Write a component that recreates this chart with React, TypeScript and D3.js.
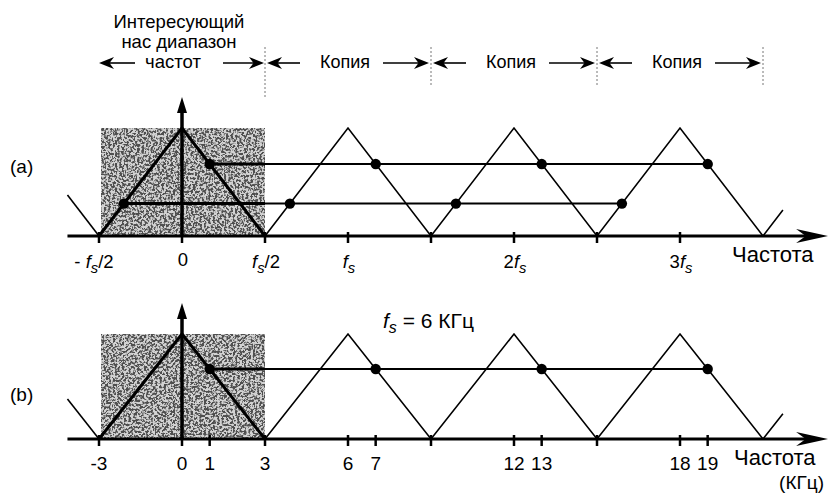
import React from "react";
import * as d3 from "d3";

const W = 828;
const H = 494;
const FONT = "'Liberation Sans', Arial, Helvetica, sans-serif";

// ---- data ----
const headerLines = ["Интересующий", "нас диапазон", "частот"];
const copyText = "Копия";
const bandEdges = [-0.5, 0.5, 1.5, 2.5, 3.5]; // in units of fs
const copyCenters = [1, 2, 3];
const spectrumStart = -0.69; // fs units
const spectrumEnd = 3.62;
const signalsA = [0.167, -0.35]; // fs units
const signalsB = [1]; // kHz
const fsKHz = 6;
const ticksA = [-0.5, 0, 0.5, 1, 2, 3];
const tickLabelsA = ["- fs/2", "0", "fs/2", "fs", "2fs", "3fs"];
const crossTicksA = [1.5, 2.5];
const ticksB = [-3, 0, 1, 3, 6, 7, 12, 13, 18, 19];
const crossTicksB = [9, 15];
const axisLabel = "Частота";
const unitLabel = "(КГц)";
const fsNote = "= 6 КГц";

// ---- helpers ----
const x = d3.scaleLinear().domain([0, 3]).range([182, 680]);
const tri = (f: number) => Math.max(0, 1 - 2 * Math.abs(f - Math.round(f)));

function vertices(a: number, b: number) {
  const pts: number[] = [a];
  for (let v = Math.ceil(a * 2) / 2; v <= b; v += 0.5) if (v > a) pts.push(v);
  pts.push(b);
  return pts;
}

function FsLabel({ text, x0, y0, size = 18 }: { text: string; x0: number; y0: number; size?: number }) {
  const i = text.indexOf("fs");
  if (i < 0)
    return (
      <text x={x0} y={y0} textAnchor="middle" fontSize={size} fontFamily={FONT}>
        {text}
      </text>
    );
  const pre = text.slice(0, i);
  const post = text.slice(i + 2);
  return (
    <text x={x0} y={y0} textAnchor="middle" fontSize={size} fontFamily={FONT}>
      {pre && <tspan>{pre}</tspan>}
      <tspan fontStyle="italic">f</tspan>
      <tspan fontStyle="italic" fontSize={size * 0.8} dy={5}>
        s
      </tspan>
      {post && <tspan dy={-5}>{post}</tspan>}
    </text>
  );
}

function HeadRight({ tipX, y, len = 15, half = 6 }: { tipX: number; y: number; len?: number; half?: number }) {
  return <path d={`M${tipX},${y} L${tipX - len},${y - half} L${tipX - len * 0.7},${y} L${tipX - len},${y + half} Z`} fill="#000" />;
}
function HeadLeft({ tipX, y, len = 15, half = 6 }: { tipX: number; y: number; len?: number; half?: number }) {
  return <path d={`M${tipX},${y} L${tipX + len},${y - half} L${tipX + len * 0.7},${y} L${tipX + len},${y + half} Z`} fill="#000" />;
}

function Panel({
  y0,
  peakY,
  arrowTop,
  signals,
  ticks,
  crosses,
  unit,
  id,
}: {
  y0: number;
  peakY: number;
  arrowTop: number;
  signals: number[];
  ticks: number[];
  crosses: number[];
  unit: number;
  id: string;
}) {
  const y = d3.scaleLinear().domain([0, 1]).range([y0, peakY]);
  const line = d3
    .line<number>()
    .x((d) => x(d))
    .y((d) => y(tri(d)));
  const copies = vertices(0.5, spectrumEnd);
  const tailL = [spectrumStart, -0.5];
  const central = [-0.5, 0, 0.5];
  const shadeX0 = x(-0.5) + 2;
  const shadeX1 = x(0.5);
  return (
    <g>
      <rect x={shadeX0} y={peakY} width={shadeX1 - shadeX0} height={y0 - peakY} fill="#d2d2d2" />
      <rect
        x={shadeX0}
        y={peakY}
        width={shadeX1 - shadeX0}
        height={y0 - peakY}
        fill="#000"
        filter={`url(#grain${id})`}
      />
      {/* axis */}
      <line x1={x(spectrumStart)} x2={x(3.82)} y1={y0} y2={y0} stroke="#000" strokeWidth={3} />
      <HeadRight tipX={x(3.82) + 12} y={y0} len={32} half={7} />
      {/* spectrum */}
      <path d={line(tailL) || ""} fill="none" stroke="#000" strokeWidth={1.6} />
      <path d={line(copies) || ""} fill="none" stroke="#000" strokeWidth={1.6} />
      <path d={line(central) || ""} fill="none" stroke="#000" strokeWidth={3} />
      {/* vertical arrow */}
      <line x1={x(0)} x2={x(0)} y1={y0} y2={arrowTop + 10} stroke="#000" strokeWidth={3.5} />
      <path d={`M${x(0)},${arrowTop} L${x(0) - 5},${arrowTop + 16} L${x(0) + 5},${arrowTop + 16} Z`} fill="#000" />
      {/* signals */}
      {signals.map((f, i) => {
        const fu = f / unit;
        const pts = [0, 1, 2, 3].map((k) => fu + k);
        const yy = y(tri(fu));
        return (
          <g key={i}>
            <line x1={x(pts[0])} x2={x(pts[3])} y1={yy} y2={yy} stroke="#000" strokeWidth={2} />
            <line x1={x(pts[0])} x2={shadeX1} y1={yy} y2={yy} stroke="#000" strokeWidth={3} />
            {pts.map((p, j) => (
              <circle key={j} cx={x(p)} cy={yy} r={5.2} fill="#000" />
            ))}
          </g>
        );
      })}
      {/* ticks */}
      {ticks.concat(crosses).map((t, i) => (
        <line key={i} x1={x(t / unit)} x2={x(t / unit)} y1={y0 - 4} y2={y0 + 7} stroke="#000" strokeWidth={2.5} />
      ))}
    </g>
  );
}

function Grain({ id, seed }: { id: string; seed: number }) {
  return (
    <filter id={`grain${id}`} x="0" y="0" width="1" height="1">
      <feTurbulence type="fractalNoise" baseFrequency="0.45" numOctaves={3} seed={seed} result="n" />
      <feColorMatrix
        in="n"
        type="matrix"
        values="0 0 0 0 0.08  0 0 0 0 0.08  0 0 0 0 0.08  7 0 0 0 -3.1"
        result="s"
      />
      <feComposite in="s" in2="SourceGraphic" operator="in" />
    </filter>
  );
}

export default function App() {
  const yA = 236;
  const yB = 439;
  const hdrY = 63;
  return (
    <svg
      width={W}
      height={H}
      viewBox={`0 0 ${W} ${H}`}
      style={{ position: "absolute", left: 0, top: 0, background: "#fff" }}
    >
      <defs>
        <Grain id="a" seed={3} />
        <Grain id="b" seed={11} />
      </defs>
      <rect x={0} y={0} width={W} height={H} fill="#fff" />

      {/* header */}
      {headerLines.map((t, i) => (
        <text
          key={i}
          x={i === 2 ? 173 : 179}
          y={28 + i * 20}
          textAnchor="middle"
          fontSize={18.5}
          fontFamily={FONT}
        >
          {t}
        </text>
      ))}
      <line x1={x(bandEdges[0]) + 8} x2={135} y1={hdrY} y2={hdrY} stroke="#000" strokeWidth={1.6} />
      <HeadLeft tipX={x(bandEdges[0])} y={hdrY} />
      <line x1={223} x2={x(bandEdges[1]) - 8} y1={hdrY} y2={hdrY} stroke="#000" strokeWidth={1.6} />
      <HeadRight tipX={x(bandEdges[1]) - 1} y={hdrY} />
      {bandEdges.slice(1).map((e, i) => (
        <line
          key={i}
          x1={x(e)}
          x2={x(e)}
          y1={47}
          y2={i === 0 ? 98 : 86}
          stroke="#777"
          strokeWidth={1}
          strokeDasharray="2 2"
        />
      ))}
      {copyCenters.map((c, i) => {
        const cx = x(c) - 3;
        const l = x(bandEdges[i + 1]);
        const r = x(bandEdges[i + 2]);
        return (
          <g key={i}>
            <HeadLeft tipX={l + 2} y={hdrY} />
            <line x1={l + 10} x2={cx - 45} y1={hdrY} y2={hdrY} stroke="#000" strokeWidth={1.6} />
            <text x={cx} y={68} textAnchor="middle" fontSize={18} fontFamily={FONT}>
              {copyText}
            </text>
            <line x1={cx + 38} x2={r - 10} y1={hdrY} y2={hdrY} stroke="#000" strokeWidth={1.6} />
            <HeadRight tipX={r - 2} y={hdrY} />
          </g>
        );
      })}

      {/* panel a */}
      <text x={10} y={173} fontSize={19} fontFamily={FONT}>
        (a)
      </text>
      <Panel
        y0={yA}
        peakY={128}
        arrowTop={97}
        signals={signalsA}
        ticks={ticksA}
        crosses={crossTicksA}
        unit={1}
        id="a"
      />
      {ticksA.map((t, i) => (
        <FsLabel
          key={i}
          text={tickLabelsA[i]}
          x0={x(t) + (i === 0 ? -5 : 1)}
          y0={tickLabelsA[i] === "0" ? 266 : 268}
          size={18.5}
        />
      ))}
      <text x={732} y={262} fontSize={22} fontFamily={FONT}>
        {axisLabel}
      </text>

      {/* panel b */}
      <text x={10} y={401} fontSize={19} fontFamily={FONT}>
        (b)
      </text>
      <Panel
        y0={yB}
        peakY={334}
        arrowTop={303}
        signals={signalsB}
        ticks={ticksB}
        crosses={crossTicksB}
        unit={fsKHz}
        id="b"
      />
      {ticksB.map((t, i) => (
        <text key={i} x={x(t / fsKHz)} y={470} textAnchor="middle" fontSize={19} fontFamily={FONT}>
          {String(t)}
        </text>
      ))}
      <text x={383} y={328} fontSize={21} fontFamily={FONT}>
        <tspan fontStyle="italic">f</tspan>
        <tspan fontStyle="italic" fontSize={16} dy={5}>
          s
        </tspan>
        <tspan dy={-5}>{" " + fsNote}</tspan>
      </text>
      <text x={734} y={465} fontSize={22} fontFamily={FONT}>
        {axisLabel}
      </text>
      <text x={824} y={489} textAnchor="end" fontSize={19} fontFamily={FONT}>
        {unitLabel}
      </text>
    </svg>
  );
}
